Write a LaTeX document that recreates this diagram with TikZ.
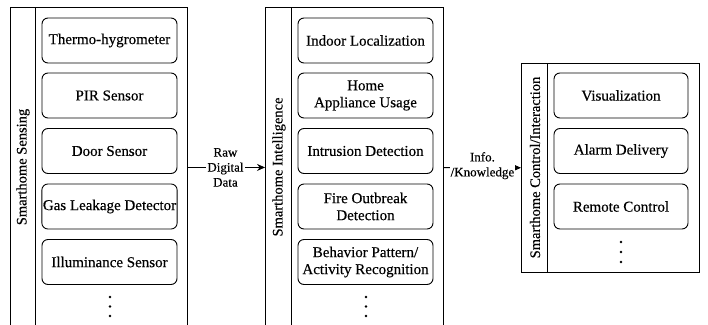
\documentclass[tikz,border=0pt]{standalone}
\usepackage{fontspec}
\setmainfont{Liberation Serif}[FakeBold=0.35]
\usetikzlibrary{arrows.meta}
\begin{document}
\begin{tikzpicture}[x=1pt,y=-1pt,
  container/.style={draw, line width=0.9pt, rectangle, inner sep=0pt},
  divider/.style={line width=0.9pt},
  item/.style={draw, line width=0.9pt, rounded corners=6pt, minimum width=135pt, minimum height=45pt,
    align=center, inner sep=1pt, font=\fontsize{15}{17}\selectfont},
  lane/.style={rotate=90, inner sep=0pt, font=\fontsize{14.5}{17}\selectfont},
  flow/.style={line width=0.9pt, -{Stealth[length=8pt,width=7pt]}},
  flowlabel/.style={fill=white, align=center, inner sep=1pt, font=\fontsize{13}{15}\selectfont},
  dot/.style={circle, fill, inner sep=0pt, minimum size=2.6pt}]
\useasboundingbox (0,0) rectangle (708,324);
\clip (0,0) rectangle (708,324);

% containers
\node[container, minimum width=177pt, minimum height=320pt, anchor=north west] (c1) at (10,7) {};
\node[container, minimum width=178pt, minimum height=320pt, anchor=north west] (c2) at (265,7) {};
\node[container, minimum width=178pt, minimum height=209pt, anchor=north west] (c3) at (521,63) {};

\draw[divider] ([xshift=25pt]c1.north west) -- ([xshift=25pt]c1.south west);
\draw[divider] ([xshift=26pt]c2.north west) -- ([xshift=26pt]c2.south west);
\draw[divider] ([xshift=26pt]c3.north west) -- ([xshift=26pt]c3.south west);

\node[lane] (l1) at (23,167) {Smarthome Sensing};
\node[lane] (l2) at (279,167) {Smarthome Intelligence};
\node[lane] (l3) at (535,167.5) {Smarthome Control/Interaction};

% sensing
\node[item] (s1) at (109.5,40.5) {Thermo-hygrometer};
\node[item] (s2) at (109.5,95.5) {PIR Sensor};
\node[item] (s3) at (109.5,151) {Door Sensor};
\node[item] (s4) at (109.5,206.5) {Gas Leakage Detector};
\node[item] (s5) at (109.5,262) {Illuminance Sensor};
\node[dot] (sd1) at (110,297) {};
\node[dot] (sd2) at (110,306.5) {};
\node[dot] (sd3) at (110,316) {};

% intelligence
\node[item] (i1) at (365.5,40.5) {Indoor Localization};
\node[item] (i2) at (365.5,95.5) {Home\\Appliance Usage};
\node[item] (i3) at (365.5,151) {Intrusion Detection};
\node[item] (i4) at (365.5,206.5) {Fire Outbreak\\Detection};
\node[item] (i5) at (365.5,262) {Behavior Pattern/\\Activity Recognition};
\node[dot] (id1) at (366,297) {};
\node[dot] (id2) at (366,306.5) {};
\node[dot] (id3) at (366,316) {};

% control
\node[item, minimum width=134pt] (v1) at (621,95.5) {Visualization};
\node[item, minimum width=134pt] (v2) at (621,151) {Alarm Delivery};
\node[item, minimum width=134pt] (v3) at (621,206.5) {Remote Control};
\node[dot] (vd1) at (621,242) {};
\node[dot] (vd2) at (621,252) {};
\node[dot] (vd3) at (621,262) {};

% flows
\draw[flow] (c1) -- node[flowlabel, xshift=-1pt] {Raw\\Digital\\Data} (c2);
\draw[flow] (c2) -- node[flowlabel, yshift=2pt] {Info.\\/Knowledge} (c3);
\end{tikzpicture}
\end{document}
